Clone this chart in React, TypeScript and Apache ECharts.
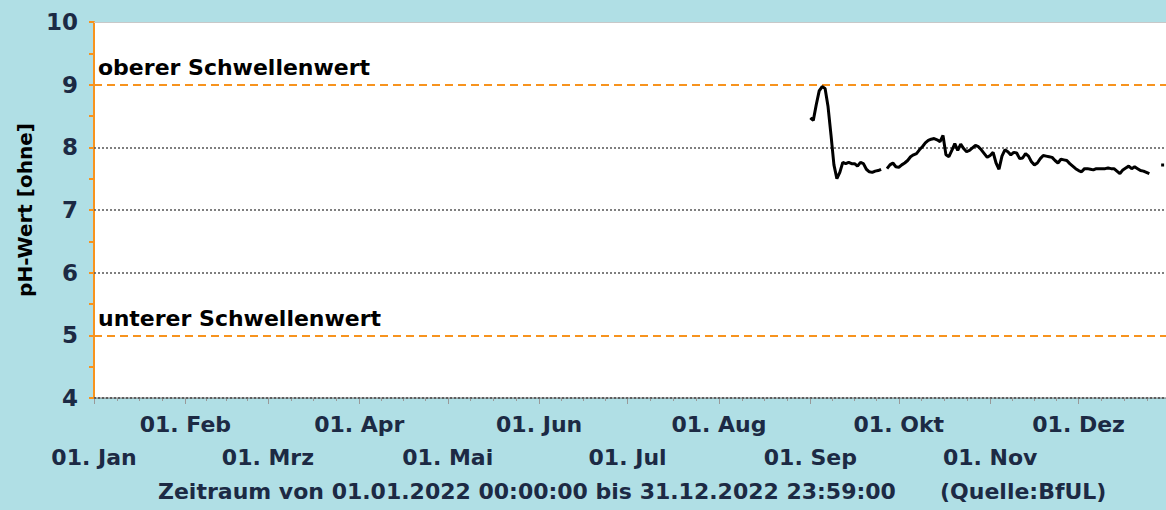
import React, { useEffect, useRef } from 'react';
import * as echarts from 'echarts';

const MONTH_NAMES = ['Jan', 'Feb', 'Mrz', 'Apr', 'Mai', 'Jun', 'Jul', 'Aug', 'Sep', 'Okt', 'Nov', 'Dez'];
const YEAR = 2022;
// daily pH values starting 01.09.2022 (null = no data)
const SERIES_START_MONTH = 8; // September (0-based)
const PH_VALUES: (number | null)[] = [
  8.47, 8.43, 8.68, 8.9, 8.97, 8.94, 8.65, 8.2, 7.72, 7.5,
  7.6, 7.76, 7.74, 7.76, 7.74, 7.74, 7.7, 7.76, 7.74, 7.65,
  7.61, 7.6, 7.62, 7.63, 7.65, null, 7.66, 7.72, 7.75, 7.69,
  7.68, 7.72, 7.75, 7.79, 7.85, 7.88, 7.9, 7.96, 8.01, 8.07,
  8.11, 8.13, 8.14, 8.12, 8.09, 8.19, 7.88, 7.85, 7.95, 8.06,
  7.95, 8.05, 7.98, 7.93, 7.95, 7.99, 8.03, 8.01, 7.96, 7.9,
  7.84, 7.87, 7.92, 7.75, 7.65, 7.86, 7.96, 7.93, 7.88, 7.92,
  7.91, 7.82, 7.83, 7.9, 7.86, 7.77, 7.72, 7.75, 7.82, 7.87,
  7.86, 7.85, 7.84, 7.79, 7.75, 7.81, 7.8, 7.79, 7.74, 7.7,
  7.66, 7.63, 7.61, 7.66, 7.66, 7.65, 7.64, 7.66, 7.66, 7.66,
  7.66, 7.67, 7.66, 7.66, 7.62, 7.58, 7.64, 7.67, 7.7, 7.66,
  7.69, 7.66, 7.63, 7.62, 7.6, 7.58, null, null, null, 7.72,
  7.72, null,
];
const Y_MIN = 4;
const Y_MAX = 10;
const Y_GRID_VALUES = [4, 6, 7, 8];
const THRESHOLDS = [
  { value: 9, name: 'oberer Schwellenwert' },
  { value: 5, name: 'unterer Schwellenwert' },
];
const AXIS_TITLE = 'pH-Wert [ohne]';
const PERIOD_TEXT = 'Zeitraum von 01.01.2022 00:00:00 bis 31.12.2022 23:59:00';
const SOURCE_TEXT = '(Quelle:BfUL)';

const BG = '#b0dfe5';
const NAVY = '#1c2a44';
const ORANGE = '#f7931e';
const FONT = '"DejaVu Sans", Verdana, sans-serif';

export default function App() {
  const ref = useRef<HTMLDivElement>(null);

  useEffect(() => {
    if (!ref.current) return;
    const chart = echarts.init(ref.current, undefined, { renderer: 'svg' });

    const xMin = new Date(YEAR, 0, 1).getTime();
    const xMax = new Date(YEAR + 1, 0, 1).getTime();
    const monthStarts: number[] = [];
    for (let m = 0; m < 12; m++) monthStarts.push(new Date(YEAR, m, 1).getTime());
    const upperRow = monthStarts.filter((_, m) => m % 2 === 1);
    const lowerRow = monthStarts.filter((_, m) => m % 2 === 0);
    const minorTicks: number[] = [];
    for (let m = 0; m < 12; m++) {
      const s = new Date(YEAR, m, 1).getTime();
      const e = new Date(YEAR, m + 1, 1).getTime();
      for (let k = 1; k < 4; k++) minorTicks.push(s + ((e - s) * k) / 4);
    }

    const data = PH_VALUES.map((v, i) => [
      new Date(YEAR, SERIES_START_MONTH, 1 + i).getTime(),
      v === null ? '-' : v,
    ]);

    const markLineData: any[] = [
      ...Y_GRID_VALUES.map((v) => ({
        yAxis: v,
        lineStyle: { color: '#555', type: [2, 2], width: 1.5 },
        label: { show: false },
      })),
      {
        yAxis: Y_MAX,
        lineStyle: { color: '#c8c8c8', type: 'solid', width: 1 },
        label: { show: false },
      },
      ...THRESHOLDS.map((t) => ({
        yAxis: t.value,
        name: t.name,
        lineStyle: { color: ORANGE, type: [8, 5], width: 2 },
        label: {
          show: true,
          position: 'insideStartTop',
          formatter: t.name,
          color: '#000',
          fontFamily: FONT,
          fontWeight: 'bold',
          fontSize: 22,
          distance: [4, 6],
        },
      })),
    ];

    const labelStyle = {
      show: true,
      hideOverlap: false,
      showMinLabel: true,
      showMaxLabel: true,
      color: NAVY,
      fontFamily: FONT,
      fontWeight: 'bold',
      fontSize: 22,
      formatter: (val: number) => '01. ' + MONTH_NAMES[new Date(val).getMonth()],
    };

    chart.setOption({
      animation: false,
      backgroundColor: BG,
      grid: {
        left: 94,
        top: 22,
        right: 10,
        bottom: 112,
        show: true,
        backgroundColor: '#ffffff',
        borderWidth: 0,
      },
      xAxis: [
        {
          type: 'value',
          min: xMin,
          max: xMax,
          axisLine: { show: true, lineStyle: { color: '#555', type: [2, 2], width: 1.5 } },
          axisTick: {
            show: true,
            customValues: monthStarts,
            length: 6,
            lineStyle: { color: '#999', width: 1 },
          },
          axisLabel: { ...labelStyle, customValues: upperRow, margin: 15 },
          splitLine: { show: false },
        },
        {
          type: 'value',
          min: xMin,
          max: xMax,
          position: 'bottom',
          axisLine: { show: false },
          axisTick: { show: false },
          axisLabel: { ...labelStyle, customValues: lowerRow, margin: 48 },
          splitLine: { show: false },
        },
        {
          type: 'value',
          min: xMin,
          max: xMax,
          position: 'bottom',
          axisLine: { show: false },
          axisTick: {
            show: true,
            customValues: minorTicks,
            length: 3,
            lineStyle: { color: '#999', width: 1 },
          },
          axisLabel: { show: false },
          splitLine: { show: false },
        },
      ],
      yAxis: {
        type: 'value',
        min: Y_MIN,
        max: Y_MAX,
        interval: 1,
        name: AXIS_TITLE,
        nameLocation: 'middle',
        nameRotate: 90,
        nameGap: 52,
        nameTextStyle: { color: '#000', fontFamily: FONT, fontWeight: 'bold', fontSize: 20 },
        axisLine: { show: true, lineStyle: { color: ORANGE, width: 2 } },
        axisTick: { show: true, length: 5, lineStyle: { color: ORANGE, width: 2 } },
        minorTick: { show: true, splitNumber: 2, length: 5, lineStyle: { color: ORANGE, width: 2 } },
        axisLabel: {
          margin: 16,
          color: NAVY,
          fontFamily: FONT,
          fontWeight: 'bold',
          fontSize: 23,
        },
        splitLine: { show: false },
      },
      graphic: [
        {
          type: 'text',
          left: 158,
          top: 480,
          style: {
            text: PERIOD_TEXT,
            fill: NAVY,
            font: `bold 22px ${FONT}`,
          },
        },
        {
          type: 'text',
          left: 940,
          top: 480,
          style: {
            text: SOURCE_TEXT,
            fill: NAVY,
            font: `bold 22px ${FONT}`,
          },
        },
      ],
      series: [
        {
          type: 'line',
          xAxisIndex: 0,
          data,
          showSymbol: false,
          connectNulls: false,
          lineStyle: { color: '#000', width: 3 },
          z: 5,
          markLine: {
            silent: true,
            symbol: 'none',
            animation: false,
            data: markLineData,
            z: 1,
          },
        },
      ],
    });

    return () => chart.dispose();
  }, []);

  return (
    <div
      style={{
        position: 'fixed',
        left: 0,
        top: 0,
        width: 1166,
        height: 510,
        overflow: 'hidden',
        background: BG,
      }}
    >
      <div ref={ref} style={{ width: 1180, height: 510 }} />
    </div>
  );
}
